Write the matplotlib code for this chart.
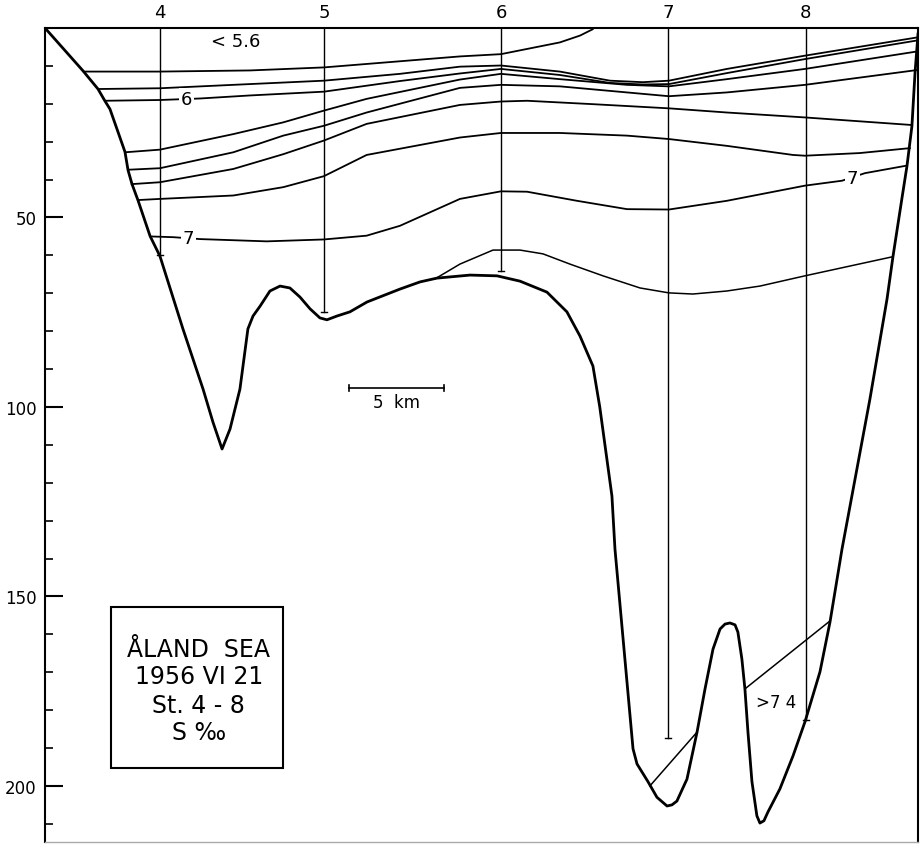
import matplotlib
matplotlib.use("Agg")
import matplotlib.pyplot as plt
from matplotlib.patches import Rectangle

# distance along section in km (0 = left edge), depth in m
station_names = ["4", "5", "6", "7", "8"]
station_x = [6.05, 14.68, 24.0, 32.8, 40.05]
station_depth = [59.9, 74.9, 64.1, 187.3, 182.6]

bottom_x = [0.0, 2.0, 2.79, 3.16, 3.42, 3.84, 4.21, 4.37, 4.58, 4.89, 5.53, 6.05,
            7.26, 8.32, 8.84, 9.32, 9.74, 10.26, 10.68, 10.95, 11.32, 11.84, 12.37,
            12.89, 13.42, 13.95, 14.47, 14.84, 15.37, 16.05, 16.95, 18.68, 19.74,
            20.63, 22.37, 23.79, 25.0, 26.42, 27.47, 28.16, 28.84, 29.2, 29.84,
            30.0, 30.95, 31.16, 31.74, 32.21, 32.74, 33.0, 33.26, 33.79, 34.32,
            34.74, 35.16, 35.53, 35.79, 36.05, 36.32, 36.47, 36.68, 36.84, 37.0,
            37.21, 37.47, 37.63, 37.84, 38.05, 38.68, 39.37, 40.0, 40.79, 41.32,
            41.95, 42.47, 43.42, 44.32, 44.63, 45.1, 45.37, 45.63, 45.79, 45.95]
bottom_d = [0.0, 11.3, 16.1, 19.3, 21.4, 27.4, 32.7, 37.5, 41.2, 45.4, 54.9, 60.2,
            79.4, 95.3, 104.0, 111.1, 105.8, 95.3, 79.4, 76.0, 73.4, 69.4, 68.1,
            68.6, 71.0, 74.1, 76.5, 77.0, 76.0, 74.9, 72.3, 68.9, 67.0,
            66.0, 65.2, 65.4, 66.8, 69.7, 74.9, 81.3, 89.2, 100.0, 123.5,
            137.5, 190.2, 194.2, 198.9, 203.0, 205.3, 205.0, 204.0, 198.2, 185.8,
            174.4, 163.9, 158.6, 157.3, 157.0, 157.5, 159.4, 166.5, 174.4, 185.8,
            198.9, 207.9, 209.8, 209.2, 206.9, 200.8, 192.1, 183.1, 169.9, 156.7,
            137.5, 123.5, 97.9, 71.5, 60.4, 45.1, 36.4, 25.9, 12.1, 1.6]

# isohalines
iso_a_x = [2.02, 6.05, 10.79, 14.68, 21.84, 24.0, 27.1, 28.16, 28.84]
iso_a_d = [11.5, 11.5, 11.2, 10.4, 7.5, 6.9, 3.8, 2.0, 0.3]

iso_b_x = [2.81, 6.05, 9.91, 14.68, 18.68, 21.84, 24.0, 27.1, 29.74, 31.47, 32.84, 35.89, 40.0, 45.89]
iso_b_d = [16.1, 15.9, 15.0, 13.9, 12.1, 10.2, 9.9, 11.5, 13.9, 14.3, 13.9, 10.8, 7.3, 2.5]

iso_c_x = [3.16, 6.05, 8.16, 10.79, 14.68, 18.68, 21.84, 24.0, 27.1, 29.74, 31.47, 32.84, 35.89, 40.0, 45.89]
iso_c_d = [19.2, 19.0, 18.6, 17.8, 16.8, 14.0, 12.0, 10.8, 12.4, 14.5, 14.9, 14.8, 11.9, 8.2, 3.3]

iso_d_x = [4.21, 6.05, 9.91, 12.54, 14.68, 16.93, 21.84, 24.0, 27.1, 30.63, 32.84, 35.89, 40.0, 45.89]
iso_d_d = [32.8, 32.1, 28.0, 24.9, 21.8, 18.7, 13.6, 12.1, 13.5, 15.0, 15.4, 13.5, 10.8, 6.2]

iso_e_x = [4.39, 6.05, 9.91, 12.54, 14.68, 16.93, 21.84, 24.0, 27.1, 30.63, 32.84, 35.89, 40.0, 45.89]
iso_e_d = [37.4, 37.0, 32.8, 28.4, 25.8, 22.3, 15.8, 15.0, 15.4, 17.0, 18.0, 17.0, 15.0, 11.1]

iso_f_x = [4.56, 6.05, 9.91, 12.54, 14.68, 16.93, 21.84, 24.0, 25.37, 28.84, 32.84, 35.89, 40.0, 45.63]
iso_f_d = [41.2, 40.7, 37.2, 33.3, 29.7, 25.3, 20.3, 19.4, 19.2, 20.1, 21.2, 22.3, 23.6, 25.6]

iso_g_x = [4.91, 6.05, 9.91, 12.54, 14.68, 16.93, 21.84, 24.0, 27.1, 30.63, 32.84, 35.89, 39.37, 40.0, 42.89, 45.53]
iso_g_d = [45.4, 45.1, 44.2, 42.0, 39.1, 33.5, 28.9, 27.7, 27.7, 28.4, 29.3, 31.1, 33.5, 33.7, 33.0, 31.7]

iso_7_x = [5.53, 6.75, 8.16, 11.67, 14.68, 16.93, 18.68, 21.84, 24.0, 25.37, 28.0, 30.63, 32.84, 35.89, 40.0, 41.95, 43.16, 45.37]
iso_7_d = [55.0, 55.2, 55.7, 56.3, 55.8, 54.8, 52.2, 45.1, 43.1, 43.2, 45.6, 47.8, 47.9, 45.6, 41.6, 40.3, 38.3, 36.3]

iso_i_x = [20.53, 21.84, 23.58, 25.0, 26.21, 27.63, 29.37, 31.32, 32.84, 34.1, 35.89, 37.63, 40.0, 44.58]
iso_i_d = [66.2, 62.3, 58.6, 58.6, 59.6, 62.3, 65.4, 68.6, 69.9, 70.2, 69.4, 68.1, 65.4, 60.4]

deep_left_x = [31.84, 34.32]
deep_left_d = [200.0, 185.8]
deep_right_x = [36.84, 41.26]
deep_right_d = [174.4, 156.7]

title_lines = ["ÅLAND  SEA", "1956 VI 21", "St. 4 - 8", "S ‰"]
title_base = [165.7, 172.8, 180.5, 187.6]

fig = plt.figure(figsize=(9.23, 8.45), dpi=100)
ax = fig.add_axes([45 / 923, 2 / 845, 873 / 923, 814 / 845])
ax.set_xlim(0, 45.95)
ax.set_ylim(214.8, 0)

# station casts
for sx, sd in zip(station_x, station_depth):
    ax.plot([sx, sx], [0, sd], color="black", lw=1.0)
    ax.plot([sx - 0.17, sx + 0.17], [sd, sd], color="black", lw=1.0)

for xs, ds in [(iso_a_x, iso_a_d), (iso_b_x, iso_b_d), (iso_c_x, iso_c_d),
               (iso_d_x, iso_d_d), (iso_e_x, iso_e_d), (iso_f_x, iso_f_d),
               (iso_g_x, iso_g_d), (iso_7_x, iso_7_d)]:
    ax.plot(xs, ds, color="black", lw=1.3, solid_capstyle="round", solid_joinstyle="round")

for xs, ds in [(iso_i_x, iso_i_d), (deep_left_x, deep_left_d), (deep_right_x, deep_right_d)]:
    ax.plot(xs, ds, color="black", lw=1.1, solid_joinstyle="round")

ax.plot(bottom_x, bottom_d, color="black", lw=2.0, solid_joinstyle="round")

# contour labels
lbl = dict(ha="center", va="center", fontsize=13,
           bbox=dict(facecolor="white", edgecolor="none", pad=1.5))
ax.text(7.45, 18.7, "6", **lbl)
ax.text(7.55, 55.4, "7", **lbl)
ax.text(42.5, 39.6, "7", **lbl)
ax.text(10.05, 3.4, "< 5.6", ha="center", va="center", fontsize=13)
ax.text(38.5, 177.8, ">7 4", ha="center", va="center", fontsize=12)

# scale bar
ax.plot([16.0, 21.0], [95.0, 95.0], color="black", lw=1.2)
ax.plot([16.0, 16.0], [94.2, 95.8], color="black", lw=1.2)
ax.plot([21.0, 21.0], [94.2, 95.8], color="black", lw=1.2)
ax.text(18.5, 98.7, "5  km", ha="center", va="center", fontsize=12)

# title box
ax.add_patch(Rectangle((3.47, 152.8), 9.06, 42.5, fill=False, edgecolor="black", lw=1.5))
for line, base in zip(title_lines, title_base):
    ax.text(8.1, base, line, ha="center", va="baseline", fontsize=17)

# axes
ax.set_xticks(station_x)
ax.set_xticklabels(station_names, fontsize=13)
ax.xaxis.tick_top()
ax.tick_params(axis="x", length=0, pad=5)

ax.set_yticks([50, 100, 150, 200])
ax.set_yticks(list(range(10, 211, 10)), minor=True)
ax.tick_params(axis="y", which="major", direction="in", length=13, width=1.5, labelsize=12, pad=6)
ax.tick_params(axis="y", which="minor", direction="in", length=6, width=1.2)

for side in ["left", "top", "right"]:
    ax.spines[side].set_linewidth(1.5)
ax.spines["bottom"].set_color("#aaaaaa")
ax.spines["bottom"].set_linewidth(1.0)

fig.savefig("out.png", dpi=100)
